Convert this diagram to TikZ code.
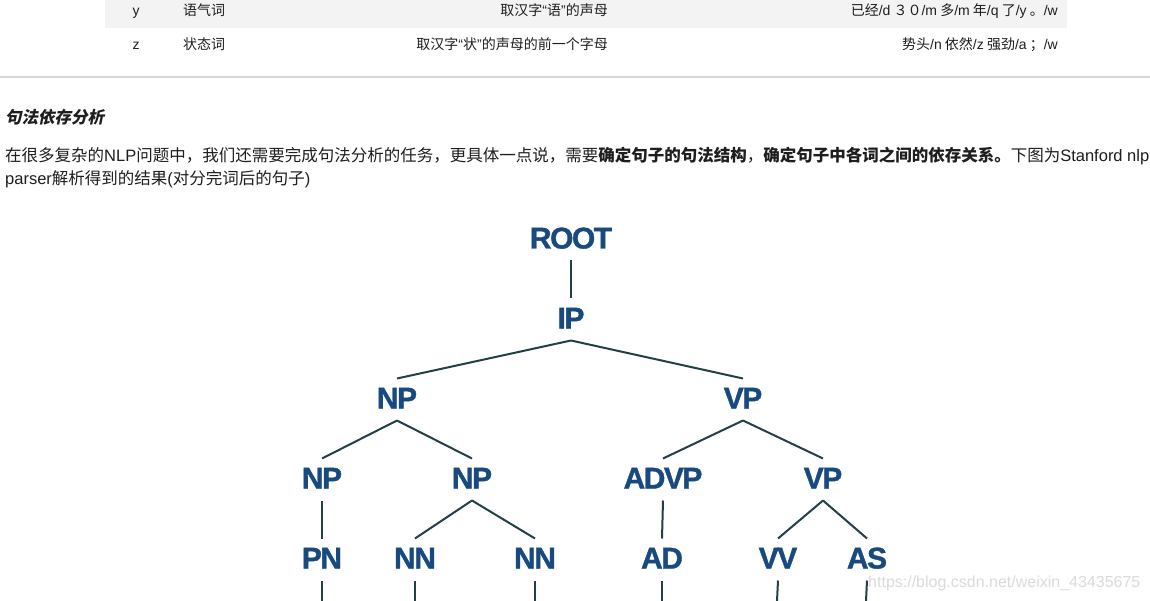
\documentclass[tikz,border=0pt]{standalone}
\usepackage{fontspec}
\setmainfont{Noto Sans CJK SC}
\newfontfamily\tagfont{Liberation Sans}[LetterSpace=-5, FakeBold=1.2]
\newfontfamily\markfont{Liberation Sans}
\newcommand\lat[1]{{\markfont #1}}
\definecolor{tagblue}{RGB}{24,74,128}
\definecolor{branchgray}{RGB}{36,64,70}
\definecolor{bodytext}{RGB}{30,30,30}
\definecolor{rowgray}{RGB}{243,243,243}
\definecolor{rulegray}{RGB}{214,214,214}
\tikzset{
    phrase/.style={text=tagblue, font=\tagfont\bfseries\fontsize{30}{30}\selectfont, inner sep=0, text height=21.5pt, text depth=3.5pt, outer ysep=8.5pt},
    branch/.style={draw=branchgray, line width=2pt},
    cell/.style={text=bodytext, font=\fontsize{14}{16}\selectfont, inner sep=0, text height=10pt, text depth=3pt},
    para/.style={text=bodytext, font=\fontsize{16.5}{20}\selectfont, inner sep=0, anchor=west}
}

\begin{document}
\begin{tikzpicture}[x=1pt, y=-1pt]
    \fill[white] (0,0) rectangle (1150,601);
    \useasboundingbox (0,0) rectangle (1150,601);

    % table rows y and z
    \fill[rowgray] (105,0) rectangle (1067,28);
    \node[cell] (y-key) at (136,12) {\lat{y}};
    \node[cell] (y-name) at (204,12) {语气词};
    \node[cell, anchor=east] (y-rule) at (608,12) {取汉字\lat{“}语\lat{”}的声母};
    \node[cell, anchor=east] (y-demo) at (1058,12) {已经\lat{/d} ３０\lat{/m} 多\lat{/m} 年\lat{/q} 了\lat{/y} 。\lat{/w}};
    \node[cell] (z-key) at (136,46) {\lat{z}};
    \node[cell] (z-name) at (204,46) {状态词};
    \node[cell, anchor=east] (z-rule) at (608,46) {取汉字\lat{“}状\lat{”}的声母的前一个字母};
    \node[cell, anchor=east] (z-demo) at (1058,46) {势头\lat{/n} 依然\lat{/z} 强劲\lat{/a} ；\lat{/w}};
    \draw[rulegray, line width=1.2pt] (0,77) -- (1150,77);

    % heading and text
    \node[para] (head) at (5,117) {\bfseries\addfontfeature{FakeSlant=0.2}句法依存分析};
    \node[para] (line-a) at (5,156) {在很多复杂的\lat{NLP}问题中，我们还需要完成句法分析的任务，更具体一点说，需要\textbf{确定句子的句法结构}，\textbf{确定句子中各词之间的依存关系。}下图为\lat{Stanford nlp}};
    \node[para] (line-b) at (5,179) {\lat{parser}解析得到的结果\lat{(}对分完词后的句子\lat{)}};

    % parse tree
    \node[phrase] (root) at (571,239.5) {ROOT};
    \node[phrase] (ip) at (571,319.5) {IP};
    \node[phrase] (np) at (397,399.5) {NP};
    \node[phrase] (vp) at (743,399.5) {VP};
    \node[phrase] (np-a) at (322,479.5) {NP};
    \node[phrase] (np-b) at (472,479.5) {NP};
    \node[phrase] (advp) at (663,479.5) {ADVP};
    \node[phrase] (vp-b) at (823,479.5) {VP};
    \node[phrase] (pn) at (322,559.5) {PN};
    \node[phrase] (nn-a) at (415,559.5) {NN};
    \node[phrase] (nn-b) at (535,559.5) {NN};
    \node[phrase] (ad) at (662,559.5) {AD};
    \node[phrase] (vv) at (778,559.5) {VV};
    \node[phrase] (as) at (867,559.5) {AS};

    \foreach \a/\b in {root/ip, ip/np, ip/vp, np/np-a, np/np-b, vp/advp, vp/vp-b,
                       np-a/pn, np-b/nn-a, np-b/nn-b, advp/ad, vp-b/vv, vp-b/as}
        \draw[branch] (\a.south) -- (\b.north);

    % words below are cut off
    \coordinate (pn-w) at (322,601);
    \coordinate (nn-a-w) at (415,601);
    \coordinate (nn-b-w) at (535,601);
    \coordinate (ad-w) at (662,601);
    \coordinate (vv-w) at (777,601);
    \coordinate (as-w) at (866,601);
    \foreach \a in {pn, nn-a, nn-b, ad, vv, as}
        \draw[branch] (\a.south) -- (\a-w);

    \node[font=\markfont\fontsize{16}{16}\selectfont, text=black!14, anchor=west, inner sep=0] (mark) at (868,583) {https://blog.csdn.net/weixin\_43435675};
\end{tikzpicture}
\end{document}
